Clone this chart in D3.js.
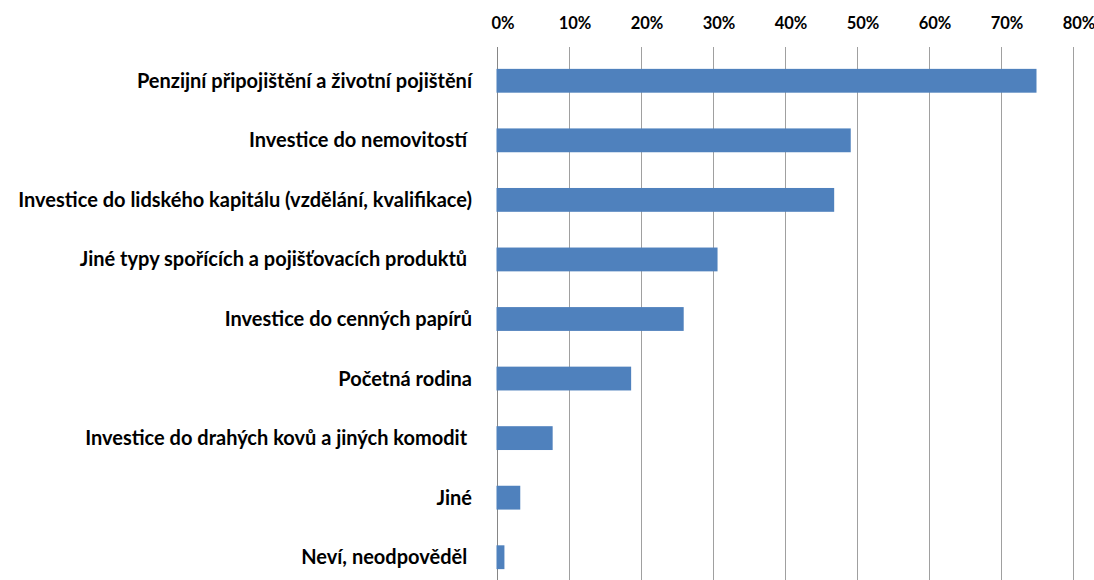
<!DOCTYPE html>
<html>
<head>
<meta charset="utf-8">
<script src="https://cdn.jsdelivr.net/npm/d3@7"></script>
<style>
body { margin: 0; background: #fff; }
text { font-family: Lato, "Open Sans", sans-serif; font-weight: bold; fill: #000; }
</style>
</head>
<body>
<svg id="chart" width="1094" height="580"></svg>
<script>
// answers (share of respondents)
var categories = [
	'Penzijní připojištění a životní pojištění',
	'Investice do nemovitostí ',
	'Investice do lidského kapitálu (vzdělání, kvalifikace)',
	'Jiné typy spořících a pojišťovacích produktů ',
	'Investice do cenných papírů',
	'Početná rodina',
	'Investice do drahých kovů a jiných komodit ',
	'Jiné',
	'Neví, neodpověděl '
];
var values = [0.75, 0.492, 0.469, 0.307, 0.26, 0.187, 0.078, 0.033, 0.011];
var ticks = [0, 0.1, 0.2, 0.3, 0.4, 0.5, 0.6, 0.7, 0.8];

var svg = d3.select('#chart');

var x = d3.scaleLinear().domain([0, 0.8]).range([496.5, 1072.5]);
var y = d3.scaleBand().domain(categories).range([51, 587]).paddingInner(0.6).paddingOuter(0.3);

// gridlines
svg.append('g').selectAll('line').data(ticks).enter().append('line')
	.attr('x1', d => Math.round(x(d)) + 0.5)
	.attr('x2', d => Math.round(x(d)) + 0.5)
	.attr('y1', 47)
	.attr('y2', 580)
	.attr('stroke', d => d === 0 ? '#868686' : '#a0a0a0')
	.attr('stroke-width', 1);

// top axis labels
var xAxis = d3.axisTop(x).tickValues(ticks).tickFormat(d3.format('.0%')).tickSize(0);
var ax = svg.append('g').attr('transform', 'translate(0,29)').call(xAxis);
ax.select('.domain').remove();
ax.selectAll('text')
	.attr('dx', 6)
	.attr('y', 0)
	.attr('dy', 0)
	.style('font-size', '16.5px')
	.style('font-family', 'Lato, sans-serif');

// bars
svg.append('g').selectAll('rect').data(values).enter().append('rect')
	.attr('x', x(0))
	.attr('y', (d, i) => y(categories[i]))
	.attr('width', d => x(d) - x(0))
	.attr('height', y.bandwidth())
	.attr('fill', '#4f81bd');

// category labels
svg.append('g').selectAll('text').data(categories).enter().append('text')
	.attr('x', 472)
	.attr('y', d => y(d) + y.bandwidth() / 2)
	.attr('dy', '0.35em')
	.attr('text-anchor', 'end')
	.style('font-size', '20px')
	.style('white-space', 'pre')
	.text(d => d);
</script>
</body>
</html>
